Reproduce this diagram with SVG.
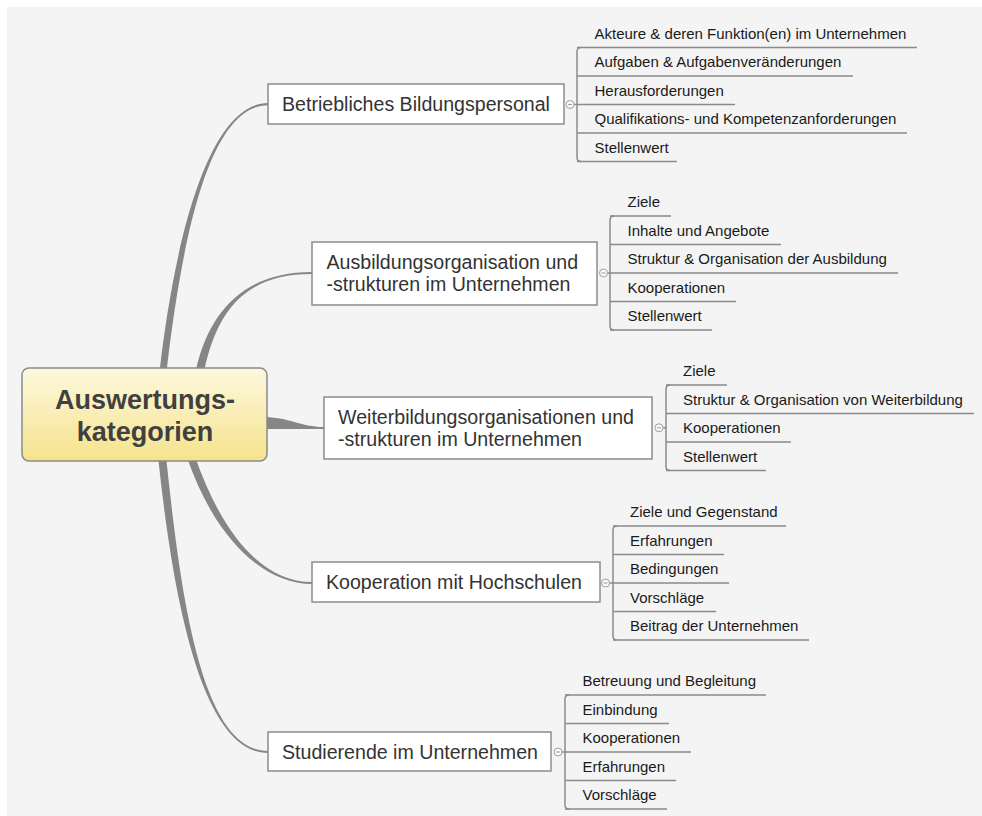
<svg xmlns="http://www.w3.org/2000/svg" width="982" height="816" viewBox="0 0 982 816">
<style>
.bg{fill:#f4f4f4}
.conn{fill:#868686;stroke:none}
.br{fill:none;stroke:#8a8a8a;stroke-width:1.5;stroke-linejoin:round}
.ul{stroke:#8a8a8a;stroke-width:1.5}
.box{fill:#ffffff;stroke:#8c8c8c;stroke-width:1.5}
.tog{fill:#f8f8f8;stroke:#a0a0a0;stroke-width:1}
.togm{stroke:#a0a0a0;stroke-width:1}
.t1{font-family:"Liberation Sans",Arial,sans-serif;font-size:19.6px;fill:#333333}
.t2{font-family:"Liberation Sans",Arial,sans-serif;font-size:15px;fill:#1a1a1a}
.tc{font-family:"Liberation Sans",Arial,sans-serif;font-size:27px;font-weight:bold;fill:#404040;text-anchor:middle}
</style>
<defs>
<linearGradient id="cg" x1="0" y1="0" x2="0" y2="1">
<stop offset="0" stop-color="#fdf8de"/>
<stop offset="1" stop-color="#f5e38c"/>
</linearGradient>
</defs>
<rect class="bg" x="7" y="7" width="975" height="809"/>
<g id="connectors">
<path class="conn" d="M159.5,372 C176.5,225 212,103 268,103 L268,105.2 C212,105.2 183.5,225 166.5,372 Z"/>
<path class="conn" d="M195.5,372 C210,305 250,272 312,272 L312,274 C250,274 218,305 204,372 Z"/>
<path class="conn" d="M262,417 C290,417 300,427 324,427 L324,429 C300,429 290,429 262,429 Z"/>
<path class="conn" d="M194.8,456 C221.8,533.7 262,582 312,582 L312,584 C262,584 214.2,536.3 187.2,458 Z"/>
<path class="conn" d="M158,456 C173,600 202,753 268,753 L268,751 C202,751 181,600 166,456 Z"/>
<line class="ul" x1="574" y1="104.5" x2="577" y2="104.5"/>
<path class="br" d="M581,47.5 Q577,47.5 577,51.5 V157.5 Q577,161.5 581,161.5"/>
<line class="ul" x1="607.5" y1="273" x2="610" y2="273"/>
<path class="br" d="M614,216 Q610,216 610,220 V326 Q610,330 614,330"/>
<line class="ul" x1="663" y1="427.75" x2="666" y2="427.75"/>
<path class="br" d="M670,385 Q666,385 666,389 V466.5 Q666,470.5 670,470.5"/>
<line class="ul" x1="609.5" y1="583" x2="613" y2="583"/>
<path class="br" d="M617,526 Q613,526 613,530 V636 Q613,640 617,640"/>
<line class="ul" x1="562" y1="752" x2="565" y2="752"/>
<path class="br" d="M569,695 Q565,695 565,699 V805 Q565,809 569,809"/>
</g>
<g id="central">
<rect x="22" y="368" width="245" height="93" rx="7" fill="url(#cg)" stroke="#8a8a8a" stroke-width="1.5"/>
<text class="tc" x="145" y="409">Auswertungs-</text>
<text class="tc" x="145" y="441">kategorien</text>
</g>
<g id="b1">
<rect class="box" x="268" y="84" width="296" height="40"/>
<text class="t1" x="282" y="111">Betriebliches Bildungspersonal</text>
<circle class="tog" cx="570" cy="104.5" r="4"/>
<line class="togm" x1="568" y1="104.5" x2="572" y2="104.5"/>
</g>
<g id="b1-1"><line class="ul" x1="577" y1="47.5" x2="917" y2="47.5"/><text class="t2" x="594.5" y="38.5">Akteure &amp; deren Funktion(en) im Unternehmen</text></g>
<g id="b1-2"><line class="ul" x1="577" y1="76" x2="853" y2="76"/><text class="t2" x="594.5" y="67">Aufgaben &amp; Aufgabenveränderungen</text></g>
<g id="b1-3"><line class="ul" x1="577" y1="104.5" x2="735" y2="104.5"/><text class="t2" x="594.5" y="95.5">Herausforderungen</text></g>
<g id="b1-4"><line class="ul" x1="577" y1="133" x2="907" y2="133"/><text class="t2" x="594.5" y="124">Qualifikations- und Kompetenzanforderungen</text></g>
<g id="b1-5"><line class="ul" x1="577" y1="161.5" x2="677" y2="161.5"/><text class="t2" x="594.5" y="152.5">Stellenwert</text></g>
<g id="b2">
<rect class="box" x="312" y="242" width="285" height="63"/>
<text class="t1" x="326.5" y="269">Ausbildungsorganisation und</text>
<text class="t1" x="326.5" y="291">-strukturen im Unternehmen</text>
<circle class="tog" cx="603.5" cy="273" r="4"/>
<line class="togm" x1="601.5" y1="273" x2="605.5" y2="273"/>
</g>
<g id="b2-1"><line class="ul" x1="610" y1="216" x2="671" y2="216"/><text class="t2" x="627.5" y="207">Ziele</text></g>
<g id="b2-2"><line class="ul" x1="610" y1="244.5" x2="781" y2="244.5"/><text class="t2" x="627.5" y="235.5">Inhalte und Angebote</text></g>
<g id="b2-3"><line class="ul" x1="610" y1="273" x2="898" y2="273"/><text class="t2" x="627.5" y="264">Struktur &amp; Organisation der Ausbildung</text></g>
<g id="b2-4"><line class="ul" x1="610" y1="301.5" x2="736" y2="301.5"/><text class="t2" x="627.5" y="292.5">Kooperationen</text></g>
<g id="b2-5"><line class="ul" x1="610" y1="330" x2="712" y2="330"/><text class="t2" x="627.5" y="321">Stellenwert</text></g>
<g id="b3">
<rect class="box" x="324" y="397" width="328" height="62"/>
<text class="t1" x="338" y="424">Weiterbildungsorganisationen und</text>
<text class="t1" x="338" y="446">-strukturen im Unternehmen</text>
<circle class="tog" cx="659" cy="427.75" r="4"/>
<line class="togm" x1="657" y1="427.75" x2="661" y2="427.75"/>
</g>
<g id="b3-1"><line class="ul" x1="666" y1="385" x2="727" y2="385"/><text class="t2" x="683" y="376">Ziele</text></g>
<g id="b3-2"><line class="ul" x1="666" y1="413.5" x2="974" y2="413.5"/><text class="t2" x="683" y="404.5">Struktur &amp; Organisation von Weiterbildung</text></g>
<g id="b3-3"><line class="ul" x1="666" y1="442" x2="791" y2="442"/><text class="t2" x="683" y="433">Kooperationen</text></g>
<g id="b3-4"><line class="ul" x1="666" y1="470.5" x2="766" y2="470.5"/><text class="t2" x="683" y="461.5">Stellenwert</text></g>
<g id="b4">
<rect class="box" x="312" y="562" width="288" height="40"/>
<text class="t1" x="326" y="589">Kooperation mit Hochschulen</text>
<circle class="tog" cx="605.5" cy="583" r="4"/>
<line class="togm" x1="603.5" y1="583" x2="607.5" y2="583"/>
</g>
<g id="b4-1"><line class="ul" x1="613" y1="526" x2="786" y2="526"/><text class="t2" x="630" y="517">Ziele und Gegenstand</text></g>
<g id="b4-2"><line class="ul" x1="613" y1="554.5" x2="724" y2="554.5"/><text class="t2" x="630" y="545.5">Erfahrungen</text></g>
<g id="b4-3"><line class="ul" x1="613" y1="583" x2="729" y2="583"/><text class="t2" x="630" y="574">Bedingungen</text></g>
<g id="b4-4"><line class="ul" x1="613" y1="611.5" x2="716" y2="611.5"/><text class="t2" x="630" y="602.5">Vorschläge</text></g>
<g id="b4-5"><line class="ul" x1="613" y1="640" x2="809" y2="640"/><text class="t2" x="630" y="631">Beitrag der Unternehmen</text></g>
<g id="b5">
<rect class="box" x="268" y="732" width="283" height="39"/>
<text class="t1" x="282" y="758.5">Studierende im Unternehmen</text>
<circle class="tog" cx="558" cy="752" r="4"/>
<line class="togm" x1="556" y1="752" x2="560" y2="752"/>
</g>
<g id="b5-1"><line class="ul" x1="565" y1="695" x2="766" y2="695"/><text class="t2" x="582.5" y="686">Betreuung und Begleitung</text></g>
<g id="b5-2"><line class="ul" x1="565" y1="723.5" x2="669" y2="723.5"/><text class="t2" x="582.5" y="714.5">Einbindung</text></g>
<g id="b5-3"><line class="ul" x1="565" y1="752" x2="691" y2="752"/><text class="t2" x="582.5" y="743">Kooperationen</text></g>
<g id="b5-4"><line class="ul" x1="565" y1="780.5" x2="676" y2="780.5"/><text class="t2" x="582.5" y="771.5">Erfahrungen</text></g>
<g id="b5-5"><line class="ul" x1="565" y1="809" x2="667" y2="809"/><text class="t2" x="582.5" y="800">Vorschläge</text></g>
</svg>
